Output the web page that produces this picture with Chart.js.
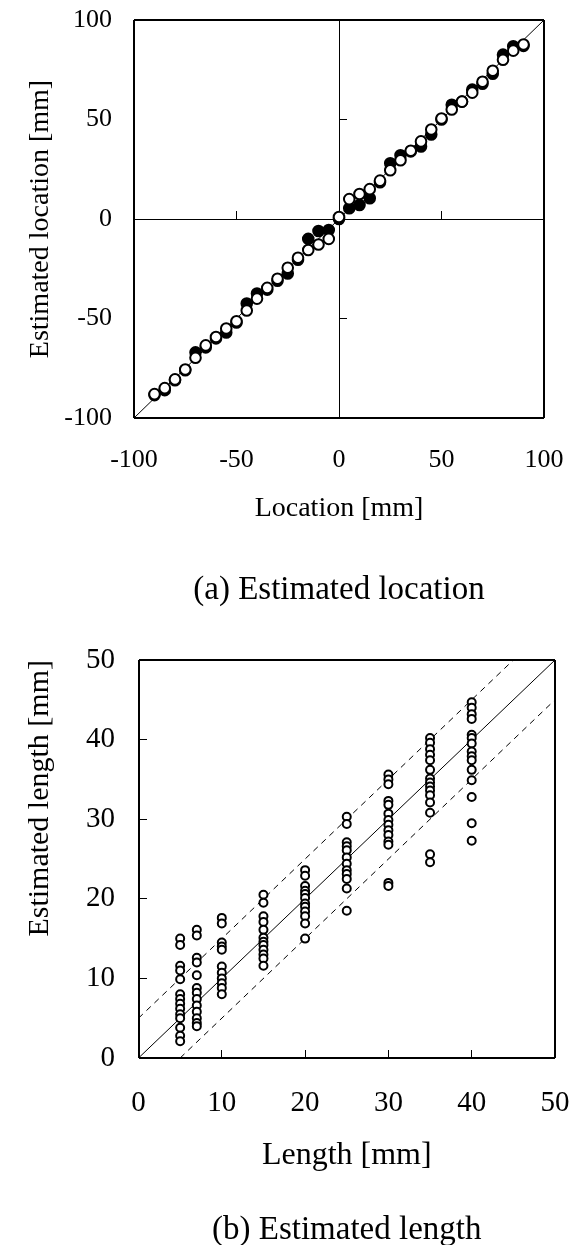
<!DOCTYPE html>
<html>
<head>
<meta charset="utf-8">
<script src="https://cdn.jsdelivr.net/npm/chart.js@4"></script>
<style>
  body { margin: 0; background: #fff; }
  #wrap { position: relative; width: 573px; height: 1245px; overflow: hidden; }
  canvas { position: absolute; left: 0; }
  #locChart { top: 0; }
  #lenChart { top: 620px; }
</style>
</head>
<body>
<div id="wrap">
  <canvas id="locChart" width="573" height="620"></canvas>
  <canvas id="lenChart" width="573" height="640"></canvas>
</div>
<script>
// (a) location: true location [mm]
const locX = [-90, -85, -80, -75, -70, -65, -60, -55, -50, -45, -40, -35, -30, -25, -20, -15, -10, -5,
  0, 5, 10, 15, 20, 25, 30, 35, 40, 45, 50, 55, 60, 65, 70, 75, 80, 85, 90];
// estimated location, filled markers
const locEstFilled = [-88.5, -86, -81, -76, -67, -64.5, -60, -57, -52, -42.5, -37.4, -35.5, -31, -27.4, -20.5, -10, -6, -5.5,
  0, 5.4, 7, 10.4, 18.5, 28, 32, 34, 36.4, 42.5, 50, 57.4, 59, 65, 68, 73, 82.6, 86.8, 87];
// estimated location, open markers
const locEstOpen = [-88, -85, -80.6, -75.6, -69.7, -63.5, -59.3, -55, -51.4, -46, -40, -34.6, -30, -24.5, -19.5, -15.6, -12.8, -10,
  1, 10, 12.6, 15, 19.3, 24.5, 29.5, 34.3, 39, 45, 50.5, 55, 59, 63.5, 69, 74.5, 80, 84.6, 87.7];
const locTicks = [-100, -50, 0, 50, 100];
const locDiagX = [-100, 100];
const locDiagY = [-100, 100];

// (b) length: true length [mm] and estimates
const lenX = [5, 7, 10, 15, 20, 25, 30, 35, 40];
const est5 = [15.0, 14.2, 11.6, 11.0, 9.9, 8.0, 7.4, 6.8, 6.2, 5.5, 5.0, 3.8, 2.8, 2.1];
const est7 = [16.1, 15.4, 12.6, 12.0, 10.4, 8.8, 8.2, 7.4, 6.6, 5.8, 5.0, 4.4, 4.0];
const est10 = [17.6, 16.9, 14.5, 14.0, 13.6, 11.5, 10.7, 10.0, 9.4, 8.8, 8.0];
const est15 = [20.5, 19.5, 17.8, 17.1, 16.1, 15.1, 14.6, 14.2, 13.6, 13.0, 12.5, 11.6];
const est20 = [23.6, 22.9, 21.6, 21.0, 20.6, 20.1, 19.4, 19.0, 18.4, 17.8, 16.9, 15.0];
const est25 = [30.3, 29.4, 27.1, 26.6, 26.1, 25.2, 24.4, 23.6, 23.1, 22.5, 21.3, 18.5];
const est30 = [35.6, 35.0, 34.4, 32.3, 31.8, 30.7, 29.9, 29.3, 28.6, 28.0, 27.2, 26.8, 22.0, 21.6];
const est35 = [40.2, 39.6, 38.8, 38.1, 37.4, 36.2, 35.1, 34.6, 34.1, 33.6, 33.0, 32.1, 30.8, 25.6, 24.6];
const est40 = [44.7, 44.0, 43.2, 42.6, 40.6, 40.2, 39.5, 38.5, 37.9, 37.4, 36.2, 34.9, 32.8, 29.5, 27.3];
const lenTicks = [0, 10, 20, 30, 40, 50];
const idealX = [0, 50];
const idealY = [0, 50];
const upperX = [0, 45];
const upperY = [5, 50];
const lowerX = [5, 50];
const lowerY = [0, 45];

const FONT = "'Liberation Serif', 'Times New Roman', serif";

function toPoints(xs, ys) {
  return xs.map((x, i) => ({ x: x, y: ys[i] }));
}

function setTicks(list) {
  return function (scale) {
    scale.ticks = list.map((v) => ({ value: v }));
  };
}

// fixed axis size, and no extra edge padding from the tick labels
function fixSize(prop, size) {
  return function (s) {
    s[prop] = size;
    s.paddingLeft = 0;
    s.paddingRight = 0;
    s.paddingTop = 0;
    s.paddingBottom = 0;
  };
}

// frame + zero lines are drawn as grid lines of the main axes
function gridFor(min, max, zeroLine) {
  const show = (v) => v === min || v === max || (zeroLine && v === 0);
  return {
    drawTicks: false,
    color: (c) => (show(c.tick.value) ? "#000" : "rgba(0,0,0,0)"),
    lineWidth: (c) => (c.tick.value === min || c.tick.value === max ? 2 : 1),
  };
}

function panelOptions(p) {
  return {
    responsive: false,
    animation: false,
    layout: { padding: { top: p.padTop, right: p.padRight, left: 0, bottom: 0 } },
    plugins: {
      legend: { display: false },
      tooltip: { enabled: false },
      title: {
        display: true,
        text: p.caption,
        position: "bottom",
        fullSize: false,
        color: "#000",
        font: { family: FONT, size: p.capSize, weight: "normal" },
        padding: { top: 0, bottom: p.capPadBottom },
      },
    },
    scales: {
      x: {
        type: "linear",
        position: "bottom",
        min: p.min,
        max: p.max,
        afterBuildTicks: setTicks(p.ticks),
        afterFit: fixSize("height", p.xHeight),
        border: { display: false },
        grid: gridFor(p.min, p.max, p.zeroLine),
        ticks: {
          color: "#000",
          maxRotation: 0,
          autoSkip: false,
          padding: p.xTickPad,
          font: { family: FONT, size: p.tickSize },
          callback: (v) => String(v),
        },
        title: {
          display: true,
          text: p.xTitle,
          color: "#000",
          font: { family: FONT, size: p.titleSize },
          padding: { top: 0, bottom: p.xTitlePadBottom },
        },
      },
      y: {
        type: "linear",
        position: "left",
        min: p.min,
        max: p.max,
        afterBuildTicks: setTicks(p.ticks),
        afterFit: fixSize("width", p.yWidth),
        border: { display: false },
        grid: gridFor(p.min, p.max, p.zeroLine),
        ticks: {
          color: "#000",
          autoSkip: false,
          padding: p.yTickPad,
          font: { family: FONT, size: p.tickSize },
          callback: (v) => String(v),
        },
        title: {
          display: true,
          text: p.yTitle,
          align: p.yTitleAlign,
          color: "#000",
          font: { family: FONT, size: p.yTitleSize },
          padding: { top: p.yTitlePadTop, bottom: 0 },
        },
      },
      // short inward tick marks sitting on the x = 0 / y = 0 lines
      xt: {
        axis: "x",
        type: "linear",
        position: { y: 0 },
        min: p.min,
        max: p.max,
        afterBuildTicks: setTicks(p.ticks),
        afterFit: fixSize("height", 0),
        border: { display: false },
        ticks: { display: false },
        grid: { drawOnChartArea: false, drawTicks: true, tickLength: -8, tickColor: "#000", tickWidth: 1 },
      },
      yt: {
        axis: "y",
        type: "linear",
        position: { x: 0 },
        min: p.min,
        max: p.max,
        afterBuildTicks: setTicks(p.ticks),
        afterFit: fixSize("width", 0),
        border: { display: false },
        ticks: { display: false },
        grid: { drawOnChartArea: false, drawTicks: true, tickLength: -8, tickColor: "#000", tickWidth: 1 },
      },
    },
  };
}

function refLine(xs, ys, dash) {
  return {
    type: "scatter",
    data: toPoints(xs, ys),
    showLine: true,
    borderColor: "#000",
    borderWidth: 1,
    borderDash: dash || [],
    pointRadius: 0,
    order: 5,
  };
}

// (a) Estimated location
new Chart(document.getElementById("locChart"), {
  type: "scatter",
  data: {
    datasets: [
      {
        data: toPoints(locX, locEstOpen),
        pointRadius: 5.3,
        pointBorderWidth: 2,
        pointBackgroundColor: "#fff",
        pointBorderColor: "#000",
        order: 0,
      },
      {
        data: toPoints(locX, locEstFilled),
        pointRadius: 5.3,
        pointBorderWidth: 2,
        pointBackgroundColor: "#000",
        pointBorderColor: "#000",
        order: 1,
      },
      refLine(locDiagX, locDiagY),
    ],
  },
  options: panelOptions({
    min: -100, max: 100, ticks: locTicks, zeroLine: true,
    padTop: 20, padRight: 29,
    yWidth: 134, xHeight: 152.2,
    tickSize: 26, titleSize: 28, capSize: 33,
    xTickPad: 26.4, yTickPad: 22,
    xTitle: "Location [mm]", xTitlePadBottom: 44.4,
    yTitle: "Estimated location [mm]", yTitlePadTop: 24, yTitleSize: 28, yTitleAlign: "center",
    caption: "(a) Estimated location", capPadBottom: 10.2,
  }),
});

// (b) Estimated length
const lenEst = [est5, est7, est10, est15, est20, est25, est30, est35, est40];
const lenPts = [];
lenX.forEach((x, i) => {
  lenEst[i].forEach((y) => lenPts.push({ x: x, y: y }));
});

new Chart(document.getElementById("lenChart"), {
  type: "scatter",
  data: {
    datasets: [
      {
        data: lenPts,
        pointRadius: 4,
        pointBorderWidth: 2,
        pointBackgroundColor: "#fff",
        pointBorderColor: "#000",
        order: 0,
      },
      refLine(idealX, idealY),
      refLine(upperX, upperY, [6, 5]),
      refLine(lowerX, lowerY, [6, 5]),
    ],
  },
  options: panelOptions({
    min: 0, max: 50, ticks: lenTicks, zeroLine: false,
    padTop: 40, padRight: 18,
    yWidth: 138.5, xHeight: 152.2,
    tickSize: 29, titleSize: 32, capSize: 33,
    xTickPad: 27.6, yTickPad: 23.5,
    xTitle: "Length [mm]", xTitlePadBottom: 35,
    yTitle: "Estimated length [mm]", yTitlePadTop: 22, yTitleSize: 30, yTitleAlign: "end",
    caption: "(b) Estimated length", capPadBottom: 10.2,
  }),
});
</script>
</body>
</html>
